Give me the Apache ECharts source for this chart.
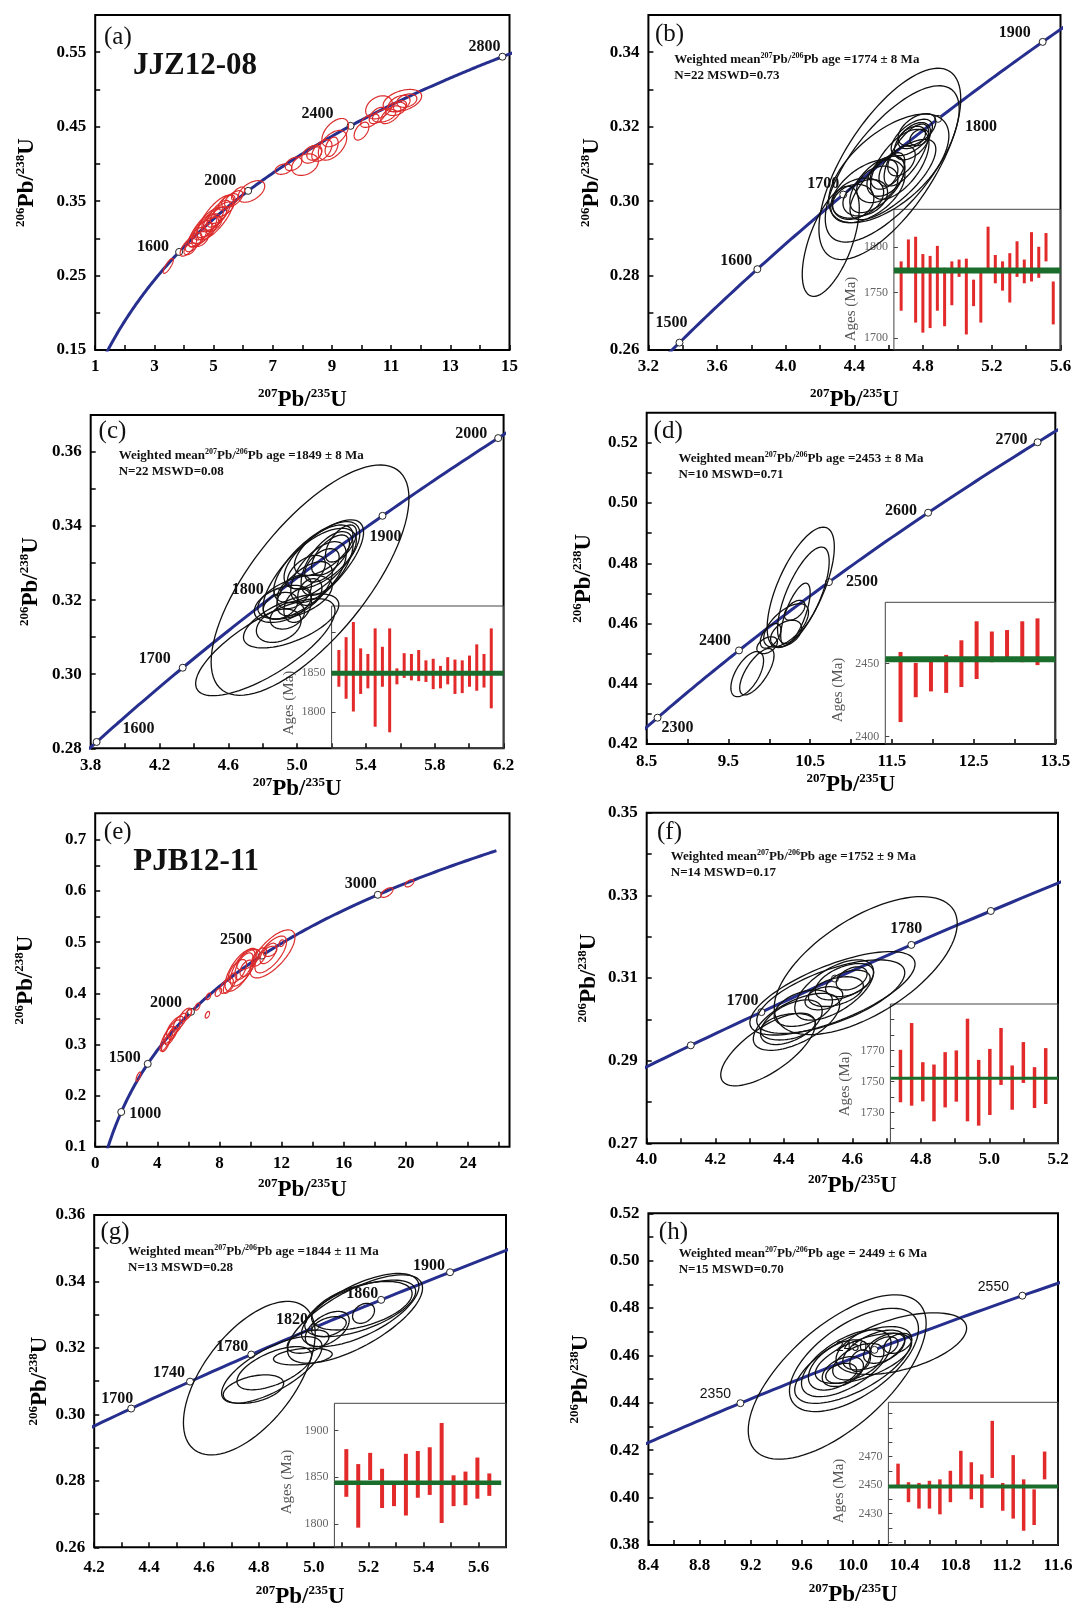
<!DOCTYPE html>
<html><head><meta charset="utf-8">
<script src="https://cdn.jsdelivr.net/npm/echarts@6/dist/echarts.min.js"></script>
<style>html,body{margin:0;padding:0;background:#fff}#c{width:1077px;height:1605px}</style>
</head><body><div id="c"></div>
<script>
// ---------- decay constants (per Ma) ----------
const L238 = 1.55125e-4, L235 = 9.8485e-4;

// ---------- tick labels ----------
const aXLabels=[1,3,5,7,9,11,13,15], aXTicks=[1,2,3,4,5,6,7,8,9,10,11,12,13,14,15];
const aYLabels=[0.15,0.25,0.35,0.45,0.55], aYTicks=[0.15,0.20,0.25,0.30,0.35,0.40,0.45,0.50,0.55];
const bXLabels=[3.2,3.6,4.0,4.4,4.8,5.2,5.6], bXTicks=[3.2,3.4,3.6,3.8,4.0,4.2,4.4,4.6,4.8,5.0,5.2,5.4,5.6];
const bYLabels=[0.26,0.28,0.30,0.32,0.34], bYTicks=[0.26,0.27,0.28,0.29,0.30,0.31,0.32,0.33,0.34];
const cXLabels=[3.8,4.2,4.6,5.0,5.4,5.8,6.2], cXTicks=[3.8,4.0,4.2,4.4,4.6,4.8,5.0,5.2,5.4,5.6,5.8,6.0,6.2];
const cYLabels=[0.28,0.30,0.32,0.34,0.36], cYTicks=[0.28,0.29,0.30,0.31,0.32,0.33,0.34,0.35,0.36];
const dXLabels=[8.5,9.5,10.5,11.5,12.5,13.5], dXTicks=[8.5,9.0,9.5,10.0,10.5,11.0,11.5,12.0,12.5,13.0,13.5];
const dYLabels=[0.42,0.44,0.46,0.48,0.50,0.52], dYTicks=[0.42,0.43,0.44,0.45,0.46,0.47,0.48,0.49,0.50,0.51,0.52];
const eXLabels=[0,4,8,12,16,20,24], eXTicks=[0,2,4,6,8,10,12,14,16,18,20,22,24,26];
const eYLabels=[0.1,0.2,0.3,0.4,0.5,0.6,0.7], eYTicks=[0.1,0.15,0.2,0.25,0.3,0.35,0.4,0.45,0.5,0.55,0.6,0.65,0.7];
const fXLabels=[4.0,4.2,4.4,4.6,4.8,5.0,5.2], fXTicks=[4.0,4.1,4.2,4.3,4.4,4.5,4.6,4.7,4.8,4.9,5.0,5.1,5.2];
const fYLabels=[0.27,0.29,0.31,0.33,0.35], fYTicks=[0.27,0.28,0.29,0.30,0.31,0.32,0.33,0.34,0.35];
const gXLabels=[4.2,4.4,4.6,4.8,5.0,5.2,5.4,5.6], gXTicks=[4.2,4.3,4.4,4.5,4.6,4.7,4.8,4.9,5.0,5.1,5.2,5.3,5.4,5.5,5.6];
const gYLabels=[0.26,0.28,0.30,0.32,0.34,0.36], gYTicks=[0.26,0.27,0.28,0.29,0.30,0.31,0.32,0.33,0.34,0.35,0.36];
const hXLabels=[8.4,8.8,9.2,9.6,10.0,10.4,10.8,11.2,11.6], hXTicks=[8.4,8.6,8.8,9.0,9.2,9.4,9.6,9.8,10.0,10.2,10.4,10.6,10.8,11.0,11.2,11.4,11.6];
const hYLabels=[0.38,0.40,0.42,0.44,0.46,0.48,0.50,0.52], hYTicks=[0.38,0.39,0.40,0.41,0.42,0.43,0.44,0.45,0.46,0.47,0.48,0.49,0.50,0.51,0.52];

const bInLabels=[1700,1750,1800], bInTicks=[1700,1750,1800];
const cInLabels=[1800,1850], cInTicks=[1800,1850,1900];
const dInLabels=[2400,2450], dInTicks=[2400,2450];
const fInLabels=[1730,1750,1770], fInTicks=[1720,1730,1740,1750,1760,1770,1780,1790];
const gInLabels=[1800,1850,1900], gInTicks=[1800,1850,1900];
const hInLabels=[2430,2450,2470], hInTicks=[2410,2420,2430,2440,2450,2460,2470,2480,2490,2500];

// ---------- concordia age markers ----------
const agesA=[1600,2000,2400,2800];
const agesB=[1500,1600,1700,1800,1900];
const agesC=[1600,1700,1800,1900,2000];
const agesD=[2300,2400,2500,2600,2700];
const agesE=[1000,1500,2000,2500,3000];
const agesF=[1660,1700,1740,1780,1820], agesFLabeled=[1700,1780];
const agesG=[1700,1740,1780,1820,1860,1900];
const agesH=[2350,2450,2550];

// ---------- error ellipses: [207Pb/235U, 206Pb/238U, half-width x, half-height y, rho] ----------
const ellA=[[3.47,0.263,0.17,0.010,0.8],[4.15,0.289,0.28,0.013,0.7],[4.20,0.286,0.20,0.008,0.5],[5.06,0.328,0.62,0.030,0.75],
[4.74,0.315,0.59,0.027,0.8],[4.72,0.311,0.45,0.018,0.7],[4.77,0.317,0.34,0.016,0.6],[5.02,0.326,0.42,0.016,0.7],
[5.17,0.333,0.39,0.018,0.7],[4.45,0.302,0.31,0.013,0.6],[4.32,0.295,0.28,0.013,0.6],[4.63,0.311,0.31,0.013,0.5],
[5.17,0.331,0.28,0.011,0.6],[4.77,0.311,0.22,0.009,0.5],[4.94,0.322,0.28,0.011,0.5],[5.34,0.339,0.34,0.010,0.6],
[4.54,0.299,0.28,0.010,0.4],[4.99,0.319,0.28,0.010,0.5],[6.28,0.363,0.45,0.0145,0.5],[5.68,0.353,0.31,0.011,0.6],
[5.44,0.348,0.28,0.010,0.6],[5.83,0.360,0.22,0.009,0.6],[5.55,0.351,0.28,0.009,0.5],[7.36,0.393,0.28,0.007,0.3],
[7.70,0.400,0.28,0.009,0.4],[8.09,0.399,0.45,0.0145,0.3],[8.32,0.413,0.34,0.012,0.4],[9.02,0.425,0.48,0.020,0.5],
[9.11,0.442,0.45,0.019,0.5],[8.66,0.418,0.34,0.0145,0.5],[8.99,0.423,0.22,0.013,0.4],[8.40,0.414,0.25,0.009,0.3],
[10.00,0.444,0.25,0.012,0.5],[10.59,0.476,0.45,0.0155,0.3],[10.54,0.465,0.28,0.011,0.5],[10.28,0.458,0.31,0.009,0.5],
[10.76,0.465,0.39,0.009,0.4],[10.99,0.466,0.34,0.012,0.6],[11.38,0.485,0.65,0.015,0.4],[11.27,0.481,0.37,0.011,0.4],
[11.30,0.478,0.22,0.007,0.3],[11.53,0.485,0.34,0.009,0.3],[11.16,0.474,0.34,0.009,0.3]];
const ellB=[[4.606,0.310,0.413,0.0257,0.68],[4.62,0.310,0.39,0.021,0.7],[4.262,0.2892,0.166,0.0148,0.6],[4.60,0.3088,0.35,0.0146,0.6],
[4.478,0.3027,0.216,0.0085,0.5],[4.42,0.3008,0.15,0.0054,0.3],[4.533,0.3045,0.16,0.0076,0.6],[4.664,0.3099,0.17,0.0094,0.6],
[4.738,0.3161,0.105,0.005,0.5],[4.734,0.3171,0.08,0.003,0.4],[4.703,0.3124,0.13,0.0083,0.7],[4.583,0.3067,0.11,0.0054,0.4],
[4.533,0.3045,0.12,0.0049,0.3],[4.463,0.3009,0.13,0.0049,0.3],[4.618,0.3085,0.075,0.0045,0.5],[4.624,0.3058,0.25,0.0108,0.75],
[4.674,0.3108,0.08,0.004,0.4],[4.573,0.3072,0.08,0.004,0.3],[4.764,0.3192,0.11,0.0043,0.5],[4.778,0.3171,0.055,0.0022,0.3],
[4.393,0.2998,0.12,0.0047,0.2],[4.734,0.3171,0.12,0.0049,0.6]];
const ellC=[[5.075,0.3254,0.575,0.0311,0.71],[4.815,0.3073,0.405,0.0131,0.75],[4.965,0.3144,0.277,0.0073,0.6],[5.094,0.3283,0.292,0.0134,0.75],
[5.114,0.3303,0.25,0.0109,0.7],[5.134,0.3312,0.21,0.0082,0.6],[5.154,0.3335,0.17,0.0068,0.6],[4.917,0.3190,0.166,0.005,0.4],
[4.987,0.3208,0.216,0.0059,0.5],[5.043,0.3231,0.161,0.0073,0.6],[5.124,0.3276,0.161,0.0082,0.6],[5.174,0.3299,0.151,0.0086,0.6],
[4.983,0.3222,0.10,0.0045,0.4],[5.074,0.3222,0.07,0.0036,0.3],[5.054,0.3276,0.11,0.0045,0.5],[5.194,0.3322,0.11,0.0054,0.6],
[4.903,0.3185,0.10,0.0036,0.3],[5.144,0.3294,0.10,0.0045,0.5],[5.003,0.3185,0.08,0.0045,0.3],[5.255,0.3353,0.09,0.005,0.6],
[4.943,0.3158,0.10,0.0036,0.3],[4.893,0.3131,0.13,0.0045,0.3]];
const ellD=[[10.385,0.472,0.411,0.020,0.67],[10.417,0.4694,0.316,0.016,0.7],[10.32,0.4631,0.18,0.0103,0.7],[10.206,0.4594,0.274,0.0072,0.6],
[10.206,0.4567,0.19,0.0044,0.4],[10.016,0.4559,0.126,0.0041,0.5],[9.974,0.4528,0.126,0.0028,0.4],[10.311,0.4644,0.126,0.0033,0.5],
[9.73,0.4432,0.2,0.0075,0.6],[9.848,0.444,0.21,0.0077,0.7]];
const ellE=[[2.78,0.237,0.15,0.009,0.7],[4.60,0.311,0.43,0.024,0.8],[4.93,0.325,0.54,0.023,0.8],[5.14,0.335,0.54,0.020,0.7],
[4.54,0.301,0.27,0.015,0.7],[5.46,0.345,0.43,0.016,0.7],[5.83,0.358,0.38,0.013,0.6],[5.00,0.322,0.27,0.013,0.6],
[4.82,0.314,0.32,0.015,0.7],[6.00,0.360,0.20,0.008,0.5],[6.58,0.374,0.16,0.007,0.5],[7.22,0.358,0.14,0.0065,0.5],
[7.29,0.394,0.15,0.0065,0.5],[7.93,0.402,0.21,0.008,0.5],[11.41,0.477,1.45,0.047,0.7],[11.30,0.476,1.02,0.036,0.7],
[9.33,0.445,0.97,0.041,0.7],[9.55,0.451,0.86,0.037,0.7],[9.58,0.453,0.59,0.026,0.6],[8.68,0.420,0.43,0.020,0.7],
[8.46,0.415,0.43,0.015,0.6],[9.86,0.466,0.75,0.020,0.6],[11.15,0.478,0.54,0.020,0.6],[11.26,0.482,0.43,0.010,0.4],
[9.75,0.449,0.43,0.016,0.5],[9.15,0.443,0.59,0.023,0.6],[10.55,0.471,0.48,0.018,0.6],[12.0,0.498,0.16,0.0065,0.3],
[18.78,0.597,0.39,0.0095,0.6],[20.23,0.615,0.28,0.007,0.5]];
const ellF=[[4.639,0.3130,0.267,0.0167,0.61],[4.354,0.2927,0.138,0.0088,0.7],[4.542,0.3063,0.241,0.0101,0.7],[4.537,0.3055,0.216,0.0089,0.65],
[4.437,0.2994,0.126,0.0069,0.6],[4.412,0.2982,0.080,0.0032,0.3],[4.457,0.3027,0.085,0.0044,0.4],[4.422,0.2993,0.090,0.0054,0.5],
[4.577,0.3091,0.085,0.0044,0.5],[4.587,0.3087,0.065,0.0032,0.4],[4.517,0.3051,0.055,0.0028,0.3],[4.552,0.3067,0.080,0.0036,0.4],
[4.547,0.3071,0.115,0.0073,0.6],[4.598,0.3099,0.045,0.0028,0.4]];
const ellG=[[4.765,0.3109,0.240,0.0231,0.58],[4.847,0.3134,0.183,0.0100,0.7],[4.780,0.3076,0.110,0.0043,0.4],[4.856,0.3139,0.136,0.0065,0.6],
[4.960,0.3174,0.107,0.0025,0.3],[5.150,0.3287,0.246,0.0133,0.7],[5.169,0.3314,0.214,0.0110,0.65],[5.169,0.3319,0.202,0.0085,0.6],
[5.175,0.3327,0.183,0.0073,0.5],[5.181,0.3304,0.040,0.0030,0.3],[5.049,0.3257,0.080,0.0053,0.5],[5.055,0.3264,0.063,0.0030,0.4],
[4.979,0.3219,0.076,0.0035,0.4]];
const ellH=[[9.875,0.4509,0.695,0.0347,0.65],[10.006,0.4581,0.504,0.0218,0.6],[10.376,0.465,0.51,0.013,0.5],[10.0,0.456,0.457,0.0162,0.65],
[9.946,0.4567,0.35,0.0141,0.6],[10.08,0.4588,0.376,0.0106,0.6],[9.892,0.456,0.242,0.0106,0.5],[9.919,0.4532,0.161,0.0063,0.4],
[9.906,0.4525,0.121,0.0042,0.3],[10.054,0.4578,0.081,0.0046,0.3],[10.242,0.4637,0.108,0.0042,0.4],[10.242,0.463,0.161,0.0063,0.5],
[10.349,0.4651,0.108,0.0042,0.4],[10.04,0.4574,0.2,0.0077,0.5],[10.161,0.4623,0.242,0.0084,0.55]];

// ---------- inset age bars [low, high] (Ma) ----------
const barsB=[[1730,1784],[1774,1808],[1717,1811],[1706,1792],[1711,1790],[1730,1801],[1713,1777],[1736,1784],[1767,1786],[1704,1787],[1735,1764],
[1717,1773],[1774,1822],[1760,1791],[1752,1784],[1739,1793],[1767,1806],[1760,1786],[1762,1816],[1766,1800],[1784,1815],[1715,1762]];
const barsC=[[1832,1878],[1817,1894],[1801,1913],[1823,1880],[1830,1873],[1782,1905],[1832,1882],[1775,1905],[1835,1855],[1843,1874],[1840,1873],
[1839,1878],[1838,1865],[1829,1867],[1830,1858],[1835,1869],[1823,1866],[1824,1865],[1832,1871],[1827,1885],[1831,1873],[1805,1905]];
const barsD=[[2410,2458],[2427,2450.5],[2431,2453],[2430,2456],[2434,2466],[2439.5,2479],[2451,2472],[2452,2473],[2451,2479],[2449,2481]];
const barsF=[[1736.5,1770.4],[1734.3,1787.7],[1737.1,1762.4],[1724.2,1760.9],[1733.2,1768.9],[1736.9,1770],[1724.2,1790.5],[1721.4,1763.9],
[1728.3,1771],[1747.7,1784.5],[1731.7,1760.3],[1749,1775.4],[1732.8,1759.2],[1735.4,1771.5]];
const barsG=[[1829,1880],[1796,1864],[1847,1876],[1817,1859],[1819,1845],[1809,1875],[1828,1878],[1831,1882],[1801,1908],[1819,1852],[1820,1856],[1827,1871],[1830,1854]];
const barsH=[[2449,2465],[2438,2452],[2433.5,2451.5],[2433.5,2453],[2429.5,2454],[2438,2460],[2449,2474],[2440,2466],[2434,2457.5],[2455,2495],
[2432,2451.5],[2426.5,2471],[2418,2454],[2422,2447],[2454,2473.5]];

// ---------- weighted mean statistics [age, 2s error, N, MSWD] ----------
const statsB=[1774,8,22,'0.73'], statsC=[1849,8,22,'0.08'], statsD=[2453,8,10,'0.71'];
const statsF=[1752,9,14,'0.17'], statsG=[1844,11,13,'0.28'], statsH=[2449,6,15,'0.70'];
const sampleNames=['JJZ12-08','PJB12-11'];
const panelLetters={a:'(a)',b:'(b)',c:'(c)',d:'(d)',e:'(e)',f:'(f)',g:'(g)',h:'(h)'};

// ---------- styling / layout ----------
const SERIF="'Liberation Serif','Times New Roman',serif", SANS="'Liberation Sans',Arial,sans-serif";
const BLUE='#272f8e', RED_E='#dc2b2b', RED_BAR='#e32a2a', GREEN='#1b6d2c', BLACK_E='#111';

const DATA={
 a:{ell:ellA,ages:agesA,xl:aXLabels,xt:aXTicks,yl:aYLabels,yt:aYTicks},
 b:{ell:ellB,ages:agesB,xl:bXLabels,xt:bXTicks,yl:bYLabels,yt:bYTicks,bars:barsB,st:statsB,il:bInLabels,it:bInTicks},
 c:{ell:ellC,ages:agesC,xl:cXLabels,xt:cXTicks,yl:cYLabels,yt:cYTicks,bars:barsC,st:statsC,il:cInLabels,it:cInTicks},
 d:{ell:ellD,ages:agesD,xl:dXLabels,xt:dXTicks,yl:dYLabels,yt:dYTicks,bars:barsD,st:statsD,il:dInLabels,it:dInTicks},
 e:{ell:ellE,ages:agesE,xl:eXLabels,xt:eXTicks,yl:eYLabels,yt:eYTicks},
 f:{ell:ellF,ages:agesF,lab:agesFLabeled,xl:fXLabels,xt:fXTicks,yl:fYLabels,yt:fYTicks,bars:barsF,st:statsF,il:fInLabels,it:fInTicks},
 g:{ell:ellG,ages:agesG,xl:gXLabels,xt:gXTicks,yl:gYLabels,yt:gYTicks,bars:barsG,st:statsG,il:gInLabels,it:gInTicks},
 h:{ell:ellH,ages:agesH,xl:hXLabels,xt:hXTicks,yl:hYLabels,yt:hYTicks,bars:barsH,st:statsH,il:hInLabels,it:hInTicks}
};

const LAY={
 a:{g:[95.2,15,414.3,335],xr:[1,15],yr:[0.15,0.60],xd:0,yd:2,lm:8,ng:37,yng:55,tMax:4500,ec:RED_E,ew:1.2,lab:[104,24.5],name:[133,50],
    off:{1600:[-26,-5],2000:[-28,-10],2400:[-33,-12],2800:[-18,-10]}},
 b:{g:[648.4,15,412.1,335],xr:[3.2,5.6],yr:[0.26,0.35],xd:1,yd:2,lm:8,ng:37,yng:43,tMax:4500,ec:BLACK_E,ew:1.3,lab:[655,21.5],
    off:{1500:[-8,-20],1600:[-21,-8],1700:[-20,-11],1800:[43,8],1900:[-28,-9]},
    inset:{g:[893.9,209.3,166.6,140.7],xr:[0,23],yr:[1687,1841],mx:[0,23],bw:3,mw:6,ap:[851.5,309]},stp:[674.3,52]},
 c:{g:[90.7,415,412.9,333.3],xr:[3.8,6.2],yr:[0.28,0.37],xd:1,yd:2,lm:9,ng:28,yng:47,tMax:4500,ec:BLACK_E,ew:1.3,lab:[98.6,419.2],
    off:{1600:[42,-13],1700:[-28,-9],1800:[-30,-3],1900:[3,21],2000:[-27,-4]},
    inset:{g:[331.6,606,172,142.3],xr:[0,23.7],yr:[1755,1933],mx:[0,23.7],bw:3,mw:5,ap:[289,703]},stp:[118.7,447.5]},
 d:{g:[646.7,412.7,408.6,331.3],xr:[8.5,13.5],yr:[0.42,0.53],xd:1,yd:2,lm:9,ng:28,yng:50,tMax:4500,ec:BLACK_E,ew:1.3,lab:[653.6,418.5],
    off:{2300:[20,10],2400:[-24,-10],2500:[33,0],2600:[-27,-2],2700:[-26,-2]},
    inset:{g:[885.3,602.3,170,141.7],xr:[0,11.17],yr:[2395,2492],mx:[0,11.17],bw:4,mw:6,ap:[837.8,690]},stp:[678.4,451]},
 e:{g:[95.2,813.3,414.3,333.4],xr:[0,26.67],yr:[0.1,0.752],xd:0,yd:1,lm:8,ng:30,yng:56,tMax:3340,ec:RED_E,ew:1.2,lab:[103.8,820],name:[133.3,846],
    off:{1000:[24,2],1500:[-23,-6],2000:[-25,-9],2500:[-26,-16],3000:[-17,-11]}},
 f:{g:[646.7,812.7,411.3,330.6],xr:[4.0,5.2],yr:[0.27,0.35],xd:1,yd:2,lm:8,ng:30,yng:45,tMax:4500,ec:BLACK_E,ew:1.3,lab:[657,820],
    off:{1700:[-19,-11],1780:[-5,-16]},
    inset:{g:[890.4,1004,167.6,139.3],xr:[0.1,15.1],yr:[1710,1800],mx:[0.1,15.1],bw:3.5,mw:3,ap:[844.7,1084]},stp:[670.8,849]},
 g:{g:[94.2,1215,411.8,332.3],xr:[4.2,5.7],yr:[0.26,0.36],xd:1,yd:2,lm:12,ng:37,yng:40,tMax:4500,ec:BLACK_E,ew:1.3,lab:[100.4,1219.5],
    off:{1700:[-14,-10],1740:[-21,-9],1780:[-19,-8],1820:[-23,-7],1860:[-19,-6],1900:[-21,-6]},
    inset:{g:[334.4,1403.3,171.6,144],xr:[0,14.4],yr:[1775,1929],mx:[0,14],bw:4,mw:4.5,ap:[286.6,1482]},stp:[128,1244]},
 h:{g:[648.4,1213.3,409.6,331.7],xr:[8.4,11.6],yr:[0.38,0.52],xd:1,yd:2,lm:12,ng:37,yng:54,tMax:4500,ec:BLACK_E,ew:1.3,lab:[658.8,1219.5],
    off:{2350:[-25,-9],2450:[-23,-3],2550:[-29,-9]},sansLabels:true,eqSpace:true,
    inset:{g:[888.4,1402.3,169.6,142.7],xr:[0.08,16.28],yr:[2408,2508],mx:[0.08,16.28],bw:3.5,mw:4,ap:[838.8,1491]},stp:[678.7,1246]}
};

function conc(t){ return [Math.exp(L235*t)-1, Math.exp(L238*t)-1]; }

const NAME_RICH={
  s:{fontSize:13,fontWeight:'bold',fontFamily:SERIF,color:'#000',verticalAlign:'top',lineHeight:13},
  b:{fontSize:23,fontWeight:'bold',fontFamily:SERIF,color:'#000',lineHeight:26}
};
const STAT_RICH={
  t:{fontSize:13,fontWeight:'bold',fontFamily:SERIF,color:'#111',lineHeight:16},
  s:{fontSize:8,fontWeight:'bold',fontFamily:SERIF,color:'#111',verticalAlign:'top',lineHeight:9}
};

function ellRender(color,lw){
  return function(p,api){
    const cx=api.value(0),cy=api.value(1),sx=api.value(2),sy=api.value(3),r=api.value(4);
    const q=Math.sqrt(1-r*r),pts=[];
    for(let k=0;k<90;k++){const t=k/90*2*Math.PI;
      pts.push(api.coord([cx+sx*Math.cos(t), cy+sy*(r*Math.cos(t)+q*Math.sin(t))]));}
    return {type:'polygon',shape:{points:pts},style:{fill:'none',stroke:color,lineWidth:lw},silent:true};
  };
}
function barRender(w){
  return function(p,api){
    const a=api.coord([api.value(0),api.value(1)]), b=api.coord([api.value(0),api.value(2)]);
    return {type:'rect',shape:{x:a[0]-w/2,y:b[1],width:w,height:a[1]-b[1]},style:{fill:RED_BAR}};
  };
}

const option={animation:false,backgroundColor:'#fff',textStyle:{fontFamily:SERIF},
  grid:[],xAxis:[],yAxis:[],series:[],title:[],graphic:[]};

function addPanel(k){
  const L=LAY[k], D=DATA[k];
  const gi=option.grid.length;
  option.grid.push({left:L.g[0],top:L.g[1],width:L.g[2],height:L.g[3],show:true,borderColor:'#000',borderWidth:2,
    backgroundColor:'transparent',containLabel:false,outerBoundsMode:'none'});
  const lblStyle={color:'#000',fontFamily:SERIF,fontWeight:'bold',fontSize:17};
  option.xAxis.push({gridIndex:gi,type:'value',min:L.xr[0],max:L.xr[1],splitLine:{show:false},axisLine:{show:false},
    axisTick:{show:true,inside:true,length:5,lineStyle:{color:'#000',width:1.5},customValues:D.xt},
    axisLabel:Object.assign({customValues:D.xl,formatter:v=>Number(v).toFixed(L.xd),margin:L.lm},lblStyle),
    name:'{s|207}{b|Pb/}{s|235}{b|U}',nameLocation:'middle',nameGap:L.ng,nameTextStyle:{rich:NAME_RICH}});
  option.yAxis.push({gridIndex:gi,type:'value',min:L.yr[0],max:L.yr[1],splitLine:{show:false},axisLine:{show:false},
    axisTick:{show:true,inside:true,length:5,lineStyle:{color:'#000',width:1.5},customValues:D.yt},
    axisLabel:Object.assign({customValues:D.yl,formatter:v=>Number(v).toFixed(L.yd),margin:9},lblStyle),
    name:'{s|206}{b|Pb/}{s|238}{b|U}',nameLocation:'middle',nameRotate:90,nameGap:L.yng,nameTextStyle:{rich:NAME_RICH}});

  // concordia curve
  const curve=[]; for(let t=0;t<=L.tMax;t+=5) curve.push(conc(t));
  option.series.push({type:'line',xAxisIndex:gi,yAxisIndex:gi,data:curve,symbol:'none',showSymbol:false,
    lineStyle:{color:BLUE,width:3},z:2,clip:true,silent:true});
  // age markers
  const labeled=D.lab||D.ages;
  option.series.push({type:'scatter',xAxisIndex:gi,yAxisIndex:gi,symbol:'circle',symbolSize:7,z:3,silent:true,
    itemStyle:{color:'#fff',borderColor:'#222',borderWidth:1,opacity:1},
    data:D.ages.map(t=>({value:conc(t).concat([t]),
      label:{show:labeled.indexOf(t)>=0,position:'inside',offset:L.off[t]||[0,0],formatter:String(t),
        color:'#111',fontFamily:L.sansLabels?SANS:SERIF,fontWeight:L.sansLabels?'normal':'bold',fontSize:L.sansLabels?14:16}}))});
  // ellipses
  option.series.push({type:'custom',xAxisIndex:gi,yAxisIndex:gi,data:D.ell,encode:{x:0,y:1},z:4,silent:true,
    renderItem:ellRender(L.ec,L.ew)});

  // panel letter
  option.title.push({text:panelLetters[k],left:L.lab[0],top:L.lab[1],padding:0,
    textStyle:{fontFamily:SERIF,fontSize:25,fontWeight:'normal',color:'#111',lineHeight:25}});

  if(L.inset){
    const I=L.inset, ii=option.grid.length;
    option.grid.push({left:I.g[0],top:I.g[1],width:I.g[2],height:I.g[3],show:true,borderColor:'#444',borderWidth:1,
      backgroundColor:'transparent',containLabel:false,outerBoundsMode:'none',z:1});
    option.xAxis.push({gridIndex:ii,type:'value',min:I.xr[0],max:I.xr[1],show:false});
    option.yAxis.push({gridIndex:ii,type:'value',min:I.yr[0],max:I.yr[1],splitLine:{show:false},axisLine:{show:false},
      axisTick:{show:true,inside:true,length:4,lineStyle:{color:'#444',width:1},customValues:D.it},
      axisLabel:{customValues:D.il,formatter:v=>String(Math.round(v)),color:'#666',fontFamily:SERIF,fontSize:12,margin:6}});
    option.series.push({type:'custom',xAxisIndex:ii,yAxisIndex:ii,data:D.bars.map((v,i)=>[i+1,v[0],v[1]]),
      encode:{x:0,y:[1,2]},z:3,silent:true,renderItem:barRender(I.bw)});
    option.series.push({type:'line',xAxisIndex:ii,yAxisIndex:ii,data:[[I.mx[0],D.st[0]],[I.mx[1],D.st[0]]],symbol:'none',
      lineStyle:{color:GREEN,width:I.mw},z:3,silent:true});
    option.graphic.push({type:'text',x:I.ap[0],y:I.ap[1],rotation:Math.PI/2,silent:true,
      style:{text:'Ages (Ma)',fill:'#555',font:'15px '+SERIF,align:'center',verticalAlign:'middle'}});
    const st=D.st, eq=L.eqSpace?'= ':'=';
    option.title.push({left:L.stp[0],top:L.stp[1],padding:0,
      text:'{t|Weighted mean}{s|207}{t|Pb/}{s|206}{t|Pb age '+eq+st[0]+' ± '+st[1]+' Ma}\n{t|N='+st[2]+' MSWD='+st[3]+'}',
      textStyle:{rich:STAT_RICH}});
  }
  if(L.name){
    option.title.push({text:sampleNames[k==='a'?0:1],left:L.name[0],top:L.name[1],padding:0,
      textStyle:{fontFamily:SERIF,fontSize:31,fontWeight:'bold',color:'#111',lineHeight:31}});
  }
}
['a','b','c','d','e','f','g','h'].forEach(addPanel);

const chart=echarts.init(document.getElementById('c'),null,{renderer:'canvas',width:1077,height:1605});
chart.setOption(option);
</script></body></html>
